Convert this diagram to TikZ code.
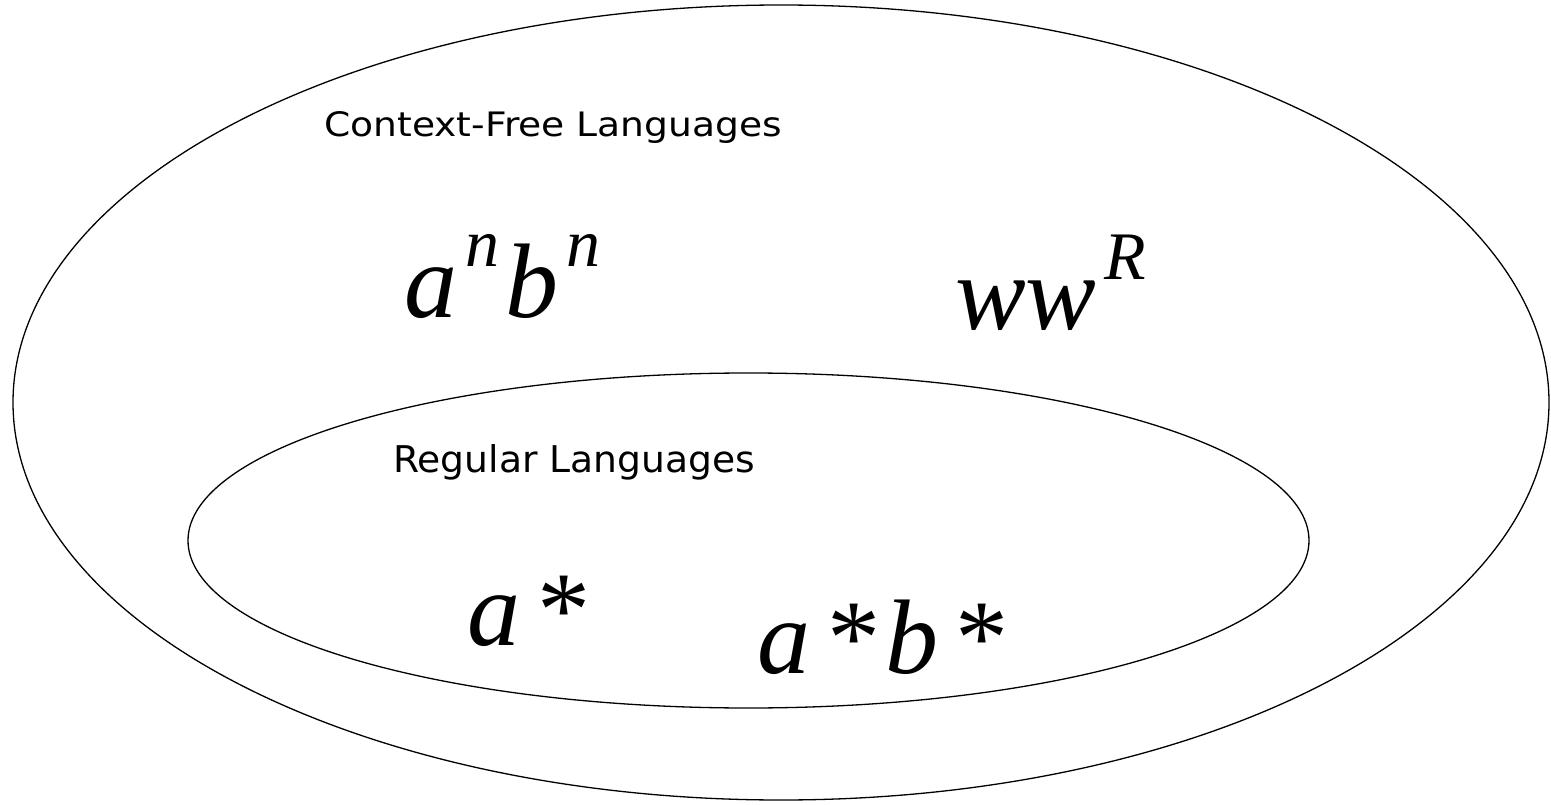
\documentclass[tikz,border=0pt]{standalone}
\usepackage{fontspec}
\newfontfamily\exprfont{Liberation Serif}
\newfontfamily\labelfont{DejaVu Sans}
\usetikzlibrary{positioning,shapes.geometric}
\tikzset{
  langset/.style  ={ellipse, draw=black, line width=1.3pt, inner sep=0pt},
  setlabel/.style ={anchor=base west, inner sep=0pt},
  langexpr/.style ={anchor=base west, inner sep=0pt},
}
\newcommand{\supexp}[1]{\kern8pt\raisebox{51pt}{\fontsize{68}{68}\selectfont #1}\kern6pt}
\newcommand{\starop}{\kern12pt*}

\begin{document}
\begin{tikzpicture}[x=1pt,y=-1pt]
  \useasboundingbox (0,0) rectangle (1551,805);
  % expressions
  \node[langexpr,font=\exprfont\itshape\fontsize{106}{106}\selectfont] (anbn) at (404,317) {a\supexp{n}b\supexp{n}};
  \node[langexpr,font=\exprfont\itshape\fontsize{106}{106}\selectfont] (wwr) at (955,330) {ww\supexp{R}};
  \node[langexpr,font=\exprfont\itshape\fontsize{106}{106}\selectfont] (astar) at (467,645) {a\starop};
  \node[langexpr,font=\exprfont\itshape\fontsize{106}{106}\selectfont] (astarbstar) at (757,673) {a\starop\kern10pt b\starop};
  % set names
  \node[setlabel,font=\labelfont\fontsize{36}{36}\selectfont] (cfllabel) at (324,137) {\resizebox{458pt}{25pt}{Context-Free Languages}};
  \node[setlabel,font=\labelfont\fontsize{36}{36}\selectfont] (reglabel) at (393,472) {\resizebox{362pt}{28pt}{Regular Languages}};
  % sets
  \node[langset, minimum width=1536, minimum height=795] (cfl) at (781,402.5) {};
  \node[langset, minimum width=1121, minimum height=335] (reg) at (748.5,540.5) {};
\end{tikzpicture}
\end{document}
